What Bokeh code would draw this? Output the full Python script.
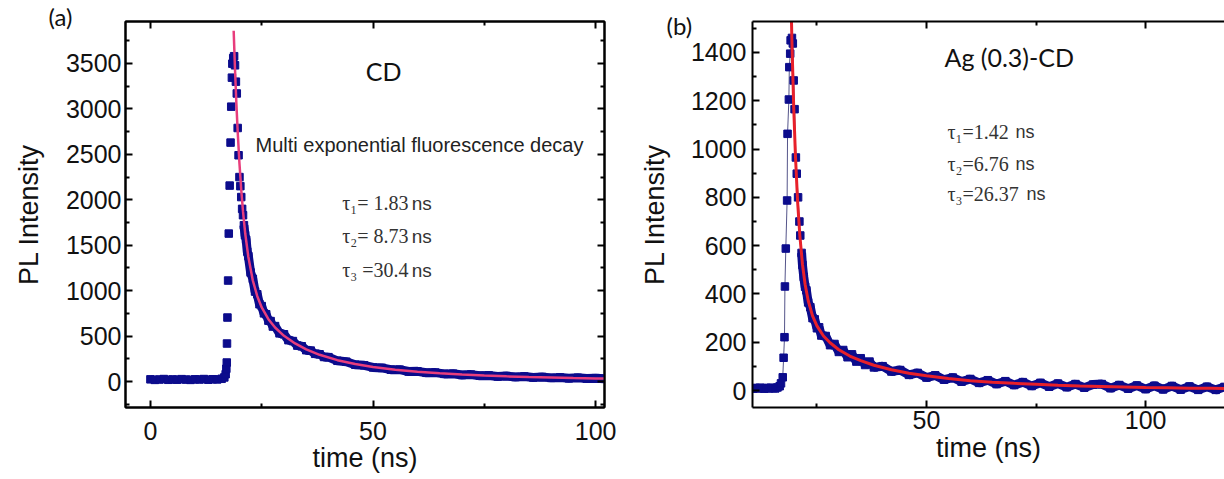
from bokeh.plotting import figure
from bokeh.models import Range1d, LinearAxis, FixedTicker, Label, Title
from bokeh.layouts import row
from bokeh.embed import file_html
from bokeh.resources import INLINE

# ---------------- data: panel (a) CD ----------------
a_base_t = [0, 1, 2, 3, 4, 5, 6, 7, 8, 9, 10, 11, 12, 13, 14, 15, 16, 16.6]
a_base_i = [24, 18, 22, 27, 19, 23, 20, 26, 21, 18, 24, 22, 27, 20, 25, 23, 30, 45]
a_rise_t = [16.9, 17.05, 17.15, 17.2, 17.3, 17.45, 17.6, 17.8, 18.0, 18.15, 18.3, 18.4, 18.6]
a_rise_i = [80, 140, 209, 418, 704, 1111, 1628, 2156, 2629, 3025, 3344, 3498, 3560]
a_decay_t = [18.8, 19.0, 19.2, 19.4, 19.6, 19.8, 20.0, 20.2, 20.4, 20.6,
             20.8, 21.0, 21.25, 21.5, 21.75, 22.0, 22.5, 23.0, 23.5, 24.0,
             24.5, 25.0, 25.5, 26.0, 26.5, 27.0, 27.5, 28, 29, 30,
             31, 32, 33, 34, 35, 36, 37, 38, 39, 40,
             42, 44, 46, 48, 50, 52, 54, 56, 58, 60,
             62, 64, 66, 68, 70, 72, 74, 76, 78, 80,
             82, 84, 86, 88, 90, 92, 94, 96, 98, 100, 102]
a_decay_i = [3580, 3480, 3300, 3170, 2790, 2490, 2250, 2150, 2030, 1900,
             1830, 1720, 1610, 1560, 1430, 1380, 1200, 1130, 990, 960,
             850, 830, 750, 740, 670, 665, 605, 610, 530, 520,
             455, 445, 395, 388, 345, 340, 305, 300, 270, 268,
             228, 218, 185, 178, 155, 150, 130, 130, 110, 112,
             96, 98, 84, 86, 72, 76, 64, 67, 56, 60,
             50, 55, 44, 49, 40, 45, 35, 41, 32, 37, 30]
a_fit_t = [18.7, 19.0, 19.3, 19.6, 20.0, 20.4, 20.8, 21.3, 22, 23, 24, 25, 26.5, 28, 30,
           32.5, 35, 38, 42, 46, 50, 55, 60, 65, 70, 75, 80, 85, 90, 95, 100, 102]
a_fit_i = [3860, 3433, 3066, 2751, 2399, 2109, 1869, 1626, 1370, 1112, 939, 815, 686, 594, 503,
           419, 354, 294, 235, 192, 160, 130, 108, 90, 77, 66, 57, 49, 44, 38, 34, 33]
a_xticks = [0, 50, 100]
a_xminor = [25, 75]
a_yticks = [0, 500, 1000, 1500, 2000, 2500, 3000, 3500]
a_yminor = [-250, 250, 750, 1250, 1750, 2250, 2750, 3250, 3750]
a_taus = ["τ₁= 1.83", "τ₂= 8.73", "τ₃ =30.4"]

# ---------------- data: panel (b) Ag(0.3)-CD ----------------
b_base_t = [10.5, 11, 11.5, 12, 12.5, 13, 13.5, 14, 14.5, 15, 15.5, 16, 16.5, 16.8]
b_base_i = [8, 11, 9, 12, 10, 8, 11, 9, 12, 10, 9, 13, 18, 30]
b_rise_t = [17.2, 17.4, 17.6, 17.7, 17.9, 18.2, 18.3, 18.6, 18.7, 18.9, 19.0]
b_rise_i = [55, 136, 221, 431, 588, 787, 1063, 1205, 1339, 1395, 1450]
b_decay_t = [19.3, 19.5, 19.7, 19.9, 20.2, 20.4, 20.7, 21.0, 21.2, 21.5,
             21.7, 22.0, 22.3, 22.6, 23.0, 23.5, 24.0, 24.5, 25.0, 25.5,
             26.0, 27, 28, 29, 30, 31, 32, 33, 34, 35,
             36, 37, 38, 40, 42, 44, 46, 48, 50, 52,
             54, 56, 58, 60, 62, 64, 66, 68, 70, 72,
             74, 76, 78, 80, 82, 84, 86, 88, 90, 92,
             94, 96, 98, 100, 102, 104, 106, 108, 110, 112,
             114, 116, 118]
b_decay_i = [1460, 1437, 1284, 1165, 965, 898, 800, 700, 642, 570,
             520, 470, 430, 415, 365, 345, 300, 295, 258, 262,
             228, 226, 188, 193, 160, 168, 138, 150, 120, 134,
             106, 120, 96, 101, 79, 85, 65, 73, 54, 63,
             45, 54, 37, 48, 32, 43, 27, 39, 23, 35,
             19, 32, 16, 29, 14, 27, 12, 25, 27, 10,
             23, 8, 21, 6, 20, 5, 19, 4, 17, 3,
             16, 3, 15]
b_fit_t = [19.0, 19.3, 19.7, 20.1, 20.6, 21.1, 21.7, 22.3, 23.0, 24.0, 25.0, 26.5, 28, 30,
           32.5, 35, 38, 42, 46, 50, 55, 60, 65, 70, 75, 80, 85, 90, 95, 100, 105, 110, 115, 118]
b_fit_i = [1692, 1441, 1174, 971, 780, 642, 523, 440, 373, 309, 268, 226, 198, 169,
           143, 124, 105, 86, 72, 61, 50, 41, 35, 30, 26, 22, 19, 17, 15, 13, 12, 10, 10, 9]
b_xticks = [50, 100]
b_xminor = [25, 75, 125]
b_yticks = [0, 200, 400, 600, 800, 1000, 1200, 1400]
b_yminor = [100, 300, 500, 700, 900, 1100, 1300, 1500]
b_taus = ["τ₁=1.42", "τ₂=6.76", "τ₃=26.37"]

NAVY = "#0c0c8c"
SANS = "Liberation Sans"
SERIF = "Liberation Serif"
CAL = "Lato"
TOP = 21      # common frame top (row aligns frames)
BOTTOM = 72   # common space below the frames


def style_axis(ax, ticks, minor, size, labels=True):
    ax.ticker = FixedTicker(ticks=ticks, minor_ticks=minor)
    ax.axis_line_color = "black"
    ax.axis_line_width = 2
    ax.major_tick_in = 7
    ax.major_tick_out = 0
    ax.minor_tick_in = 4
    ax.minor_tick_out = 0
    ax.major_tick_line_width = 2
    ax.minor_tick_line_width = 2
    ax.major_tick_line_color = "black"
    ax.minor_tick_line_color = "black"
    ax.major_label_text_font = SANS
    ax.major_label_text_color = "#111111"
    ax.axis_label_text_font = SANS
    ax.axis_label_text_font_style = "normal"
    ax.axis_label_text_color = "#111111"
    if labels:
        ax.major_label_text_font_size = size
    else:
        ax.major_label_text_font_size = "1px"
        ax.major_label_text_color = None
        ax.major_label_standoff = 0


def base_fig(w, h, xr, yr, bl, br, bt, bb):
    p = figure(width=w, height=h, x_range=Range1d(*xr), y_range=Range1d(*yr),
               output_backend="svg", toolbar_location=None,
               min_border_left=bl, min_border_right=br, min_border_top=bt, min_border_bottom=bb)
    p.xgrid.visible = False
    p.ygrid.visible = False
    p.background_fill_color = "white"
    p.border_fill_color = "white"
    return p


def tag_title(text, offset, standoff):
    t = Title(text=text, align="left", offset=offset, text_font=CAL, text_font_size="24px",
              text_font_style="normal", text_color="#111111", vertical_align="bottom")
    try:
        t.standoff = standoff
    except Exception:
        pass
    return t


# ---------------- panel (a) ----------------
pa = base_fig(634, 479, (-5.6, 102.0), (-286, 3962), 125, 30, TOP, BOTTOM)
pa.outline_line_color = "black"
pa.outline_line_width = 2
style_axis(pa.xaxis[0], a_xticks, a_xminor, "25px")
style_axis(pa.yaxis[0], a_yticks, a_yminor, "25px")
pa.xaxis[0].axis_label = "time (ns)"
pa.yaxis[0].axis_label = "PL Intensity"
pa.xaxis[0].axis_label_text_font_size = "27px"
pa.yaxis[0].axis_label_text_font_size = "27px"
pa.xaxis[0].major_label_standoff = 14
pa.xaxis[0].axis_label_standoff = 0
pa.yaxis[0].major_label_standoff = 4
pa.yaxis[0].axis_label_standoff = 19
top_a = LinearAxis()
style_axis(top_a, a_xticks, a_xminor, "1px", labels=False)
pa.add_layout(top_a, "above")
right_a = LinearAxis()
style_axis(right_a, a_yticks, a_yminor, "1px", labels=False)
pa.add_layout(right_a, "right")
pa.add_layout(tag_title("(a)", -77, -18), "above")

a_t = a_base_t + a_rise_t + a_decay_t
a_i = a_base_i + a_rise_i + a_decay_i
a_tail_t = [t for t in a_t if t >= 21]
a_tail_i = [v for t, v in zip(a_t, a_i) if t >= 21]
a_bl_t = [t for t in a_t if t <= 16.6]
a_bl_i = [v for t, v in zip(a_t, a_i) if t <= 16.6]
pa.line(a_tail_t, a_tail_i, line_color=NAVY, line_width=9)
pa.line(a_bl_t, a_bl_i, line_color=NAVY, line_width=7)
pa.scatter(a_t, a_i, marker="square", size=7.5, fill_color=NAVY, line_color=NAVY)
pa.line(a_fit_t, a_fit_i, line_color="#e83d7c", line_width=2.5)

pa.add_layout(Label(x=52.4, y=3412, text="CD", text_font=CAL, text_font_size="25px",
                    text_align="center", text_baseline="middle", text_color="#111111"))
pa.add_layout(Label(x=23.6, y=2608, text="Multi exponential fluorescence decay", text_font=SANS,
                    text_font_size="20px", text_baseline="middle", text_color="#222222"))
for yy, tx in zip([1960, 1597, 1223], a_taus):
    pa.add_layout(Label(x=43.1, y=yy, text=tx, text_font=SERIF, text_font_size="20px",
                        text_baseline="middle", text_color="#333333"))
    pa.add_layout(Label(x=58.7, y=yy, text="ns", text_font=SANS, text_font_size="19px",
                        text_baseline="middle", text_color="#333333"))

# ---------------- panel (b) ----------------
pb = base_fig(590, 479, (10.3, 118.0), (-70, 1528), 118, 0, TOP, BOTTOM)
pb.outline_line_color = None
style_axis(pb.xaxis[0], b_xticks, b_xminor, "25px")
style_axis(pb.yaxis[0], b_yticks, b_yminor, "25px")
pb.xaxis[0].axis_label = "time (ns)"
pb.yaxis[0].axis_label = "PL Intensity"
pb.xaxis[0].axis_label_text_font_size = "27px"
pb.yaxis[0].axis_label_text_font_size = "27px"
pb.xaxis[0].major_label_standoff = 3
pb.xaxis[0].axis_label_standoff = 1
pb.yaxis[0].major_label_standoff = 6
pb.yaxis[0].axis_label_standoff = 18
top_b = LinearAxis()
style_axis(top_b, b_xticks, b_xminor, "1px", labels=False)
pb.add_layout(top_b, "above")
pb.add_layout(tag_title("(b)", -86, -36), "above")

b_t = b_base_t + b_rise_t + b_decay_t
b_i = b_base_i + b_rise_i + b_decay_i
b_tail_t = [t for t in b_t if t >= 21.5]
b_tail_i = [v for t, v in zip(b_t, b_i) if t >= 21.5]
b_bl_t = [t for t in b_t if t <= 16.8]
b_bl_i = [v for t, v in zip(b_t, b_i) if t <= 16.8]
pb.line(b_t, b_i, line_color="#55558a", line_width=1)
pb.line(b_tail_t, b_tail_i, line_color=NAVY, line_width=9)
pb.line(b_bl_t, b_bl_i, line_color=NAVY, line_width=7)
pb.scatter(b_t, b_i, marker="square", size=7.5, fill_color=NAVY, line_color=NAVY)
pb.line(b_fit_t, b_fit_i, line_color="#e8202a", line_width=3)

pb.add_layout(Label(x=54.1, y=1379, text="Ag (0.3)-CD", text_font=CAL, text_font_size="25px",
                    text_baseline="middle", text_color="#111111"))
ns_x = [70.3, 70.3, 72.8]
for yy, tx, nx in zip([1069, 940, 812], b_taus, ns_x):
    pb.add_layout(Label(x=54.8, y=yy, text=tx, text_font=SERIF, text_font_size="20px",
                        text_baseline="middle", text_color="#333333"))
    pb.add_layout(Label(x=nx, y=yy, text="ns", text_font=SANS, text_font_size="18px",
                        text_baseline="middle", text_color="#333333"))

layout = row(pa, pb)
open("out.html", "w").write(file_html(layout, INLINE))
